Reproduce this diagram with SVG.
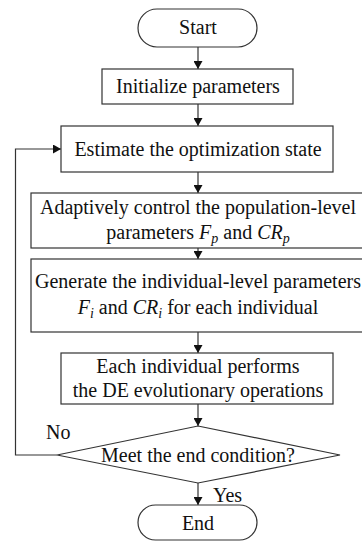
<svg xmlns="http://www.w3.org/2000/svg" width="362" height="542" viewBox="0 0 362 542">
<style>
.s{fill:#fff;stroke:#333;stroke-width:1.2}
.t{font-family:"Liberation Serif","Times New Roman",serif;font-size:20px;fill:#111;text-anchor:middle}
.l{font-family:"Liberation Serif","Times New Roman",serif;font-size:20px;fill:#111}
.c{fill:none;stroke:#333;stroke-width:1.2}
.i{font-style:italic}
.sub{font-style:italic;font-size:14px}
</style>
<defs>
<marker id="a" viewBox="0 0 8 9" refX="8" refY="4.5" markerWidth="8" markerHeight="9" markerUnits="userSpaceOnUse" orient="auto">
<path d="M0,0 L8,4.5 L0,9 Z" fill="#111"/>
</marker>
</defs>
<rect width="362" height="542" fill="#fff"/>
<g id="connectors">
<line class="c" x1="198" y1="47" x2="198" y2="69" marker-end="url(#a)"/>
<line class="c" x1="198" y1="104" x2="198" y2="126" marker-end="url(#a)"/>
<line class="c" x1="198" y1="172" x2="198" y2="193" marker-end="url(#a)"/>
<line class="c" x1="198" y1="248" x2="198" y2="259" marker-end="url(#a)"/>
<line class="c" x1="198" y1="332" x2="198" y2="353" marker-end="url(#a)"/>
<line class="c" x1="198" y1="404" x2="198" y2="426" marker-end="url(#a)"/>
<line class="c" x1="198" y1="483" x2="198" y2="505" marker-end="url(#a)"/>
<polyline class="c" points="57,455 15.5,455 15.5,149 61,149" marker-end="url(#a)"/>
<text class="l" x="46" y="439">No</text>
<text class="l" x="213" y="502">Yes</text>
</g>
<g id="start">
<rect class="s" x="138" y="9" width="119" height="38" rx="19"/>
<text class="t" x="198" y="34">Start</text>
</g>
<g id="init">
<rect class="s" x="102" y="69" width="191" height="35"/>
<text class="t" x="198" y="93">Initialize parameters</text>
</g>
<g id="estimate">
<rect class="s" x="61" y="126" width="272" height="46"/>
<text class="t" x="198" y="156">Estimate the optimization state</text>
</g>
<g id="adaptive">
<rect class="s" x="31" y="193" width="340" height="55"/>
<text class="t" x="198" y="214">Adaptively control the population-level</text>
<text class="t" x="198" y="239">parameters <tspan class="i">F</tspan><tspan class="sub" dy="4">p</tspan><tspan dy="-4"> and </tspan><tspan class="i">CR</tspan><tspan class="sub" dy="4">p</tspan></text>
</g>
<g id="generate">
<rect class="s" x="31" y="259" width="340" height="73"/>
<text class="t" x="198" y="288">Generate the individual-level parameters</text>
<text class="t" x="198" y="314"><tspan class="i">F</tspan><tspan class="sub" dy="4">i</tspan><tspan dy="-4"> and </tspan><tspan class="i">CR</tspan><tspan class="sub" dy="4">i</tspan><tspan dy="-4"> for each individual</tspan></text>
</g>
<g id="evolve">
<rect class="s" x="61" y="353" width="272" height="51"/>
<text class="t" x="198" y="373">Each individual performs</text>
<text class="t" x="198" y="397">the DE evolutionary operations</text>
</g>
<g id="decision">
<polygon class="s" points="198,426 340,455 198,483 57,455"/>
<text class="t" x="198" y="462">Meet the end condition?</text>
</g>
<g id="end">
<rect class="s" x="138" y="505" width="119" height="35" rx="17.5"/>
<text class="t" x="198" y="530">End</text>
</g>
</svg>
